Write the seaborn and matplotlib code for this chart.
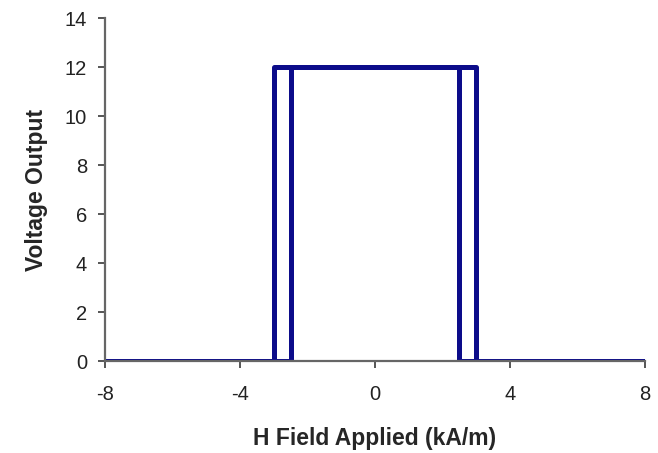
import matplotlib
matplotlib.use('Agg')
import pandas as pd
import seaborn as sns
import matplotlib.pyplot as plt

# %% data: hysteresis loop of the sensor output
h_up = [-8, -3, -3, 3, 3, 8]          # outer switching points (kA/m)
v_up = [0, 0, 12, 12, 0, 0]
h_down = [8, 2.5, 2.5, -2.5, -2.5, -8]  # inner switching points (kA/m)
v_down = [0, 0, 12, 12, 0, 0]

x_ticks = [-8, -4, 0, 4, 8]
y_ticks = [0, 2, 4, 6, 8, 10, 12, 14]

df = pd.concat([
    pd.DataFrame({'H': h_up, 'V': v_up, 'sweep': 'up'}),
    pd.DataFrame({'H': h_down, 'V': v_down, 'sweep': 'down'}),
])

# %% plot
sns.set_style('ticks')
plt.rcParams['font.family'] = ['Liberation Sans', 'DejaVu Sans']
plt.rcParams['axes.unicode_minus'] = False

fig = plt.figure(figsize=(6.58, 4.53), dpi=100)
ax = fig.add_axes([0.1596, 0.203, 0.8204, 0.757])

line_col = '#0c0c8a'
for sw in ['up', 'down']:
    sub = df[df['sweep'] == sw]
    sns.lineplot(data=sub, x='H', y='V', sort=False, estimator=None,
                 color=line_col, linewidth=3.6, ax=ax, legend=False)

ax.set_xlim(-8, 8)
ax.set_ylim(0, 14)
ax.set_xticks(x_ticks)
ax.set_yticks(y_ticks)
ax.tick_params(axis='both', labelsize=14.5, colors='#555555', labelcolor='#222222',
               length=5, width=1.4, pad=8)
ax.tick_params(axis='x', pad=12)
for s in ['top', 'right']:
    ax.spines[s].set_visible(False)
for s in ['left', 'bottom']:
    ax.spines[s].set_color('#666666')
    ax.spines[s].set_linewidth(1.6)

ax.set_xlabel('H Field Applied (kA/m)', fontsize=16.5, fontweight='bold', labelpad=17)
ax.set_ylabel('Voltage Output', fontsize=16.5, fontweight='bold', labelpad=12)

fig.savefig('out.png', dpi=100)
